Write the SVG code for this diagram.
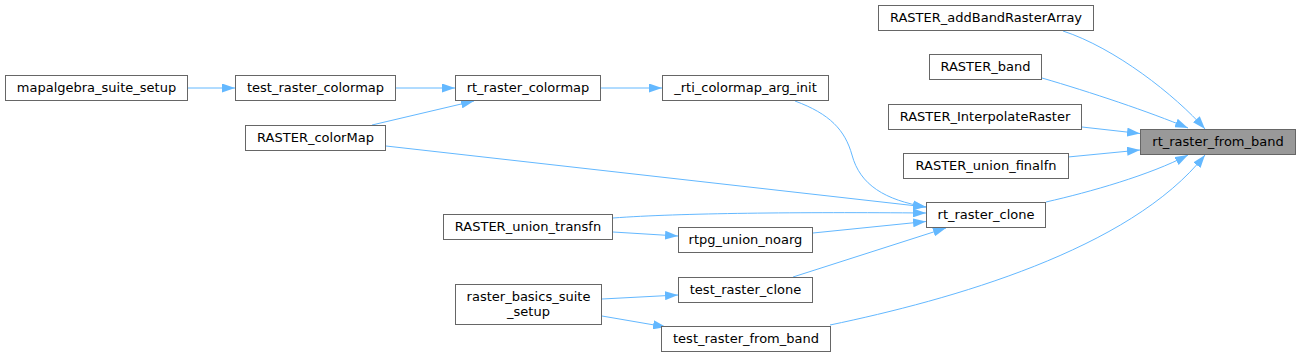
<svg xmlns="http://www.w3.org/2000/svg" width="1301" height="357" viewBox="0 0 1301 357">
<style>
.n rect{fill:#ffffff;stroke:#666666;stroke-width:1}
.n.hl rect{fill:#999999}
.n text{font-family:"DejaVu Sans","Liberation Sans",sans-serif;font-size:13px;fill:#000000;text-anchor:middle}
.e path{fill:none;stroke:#63b8ff;stroke-width:1;marker-end:url(#ah)}
</style>
<defs>
<marker id="ah" markerUnits="userSpaceOnUse" markerWidth="13" markerHeight="9" viewBox="0 0 13 9" refX="13" refY="4.5" orient="auto">
<path d="M0,0 L13,4.5 L0,9 z" fill="#63b8ff"/>
</marker>
</defs>
<rect width="1301" height="357" fill="#ffffff"/>
<g class="e" id="edges">
<path d="M1063,31 C1115,48 1175,95 1205,129"/>
<path d="M1042,78 C1090,92 1150,112 1188,128"/>
<path d="M1082,127 L1140,133.5"/>
<path d="M1068,157 L1140,150"/>
<path d="M1046,202 C1090,192 1150,175 1188,155"/>
<path d="M830,325 C950,300 1130,250 1205,155"/>
<path d="M188,88 L235,88"/>
<path d="M396,88 L455,88"/>
<path d="M372,125 L474,101"/>
<path d="M601,88 L662,88"/>
<path d="M795,101 C830,114 845,130 852,155 C860,185 885,200 926,207"/>
<path d="M386,146 L926,207"/>
<path d="M613,218 C680,213 800,212 926,213"/>
<path d="M813,233 L926,221.5"/>
<path d="M793,277 L946,228"/>
<path d="M613,232 L678,236"/>
<path d="M602,299 L678,295"/>
<path d="M602,316 L666,327"/>
</g>
<g class="n hl" id="rt_raster_from_band"><rect x="1140.5" y="129.5" width="155" height="25"/><text x="1218" y="146">rt_raster_from_band</text></g>
<g class="n" id="RASTER_addBandRasterArray"><rect x="878.5" y="5.5" width="215" height="25"/><text x="986" y="22">RASTER_addBandRasterArray</text></g>
<g class="n" id="RASTER_band"><rect x="929.5" y="54.5" width="112" height="25"/><text x="985.5" y="71">RASTER_band</text></g>
<g class="n" id="RASTER_InterpolateRaster"><rect x="888.5" y="104.5" width="193" height="25"/><text x="985" y="121">RASTER_InterpolateRaster</text></g>
<g class="n" id="RASTER_union_finalfn"><rect x="903.5" y="153.5" width="165" height="25"/><text x="986" y="170">RASTER_union_finalfn</text></g>
<g class="n" id="rt_raster_clone"><rect x="926.5" y="202.5" width="119" height="25"/><text x="986" y="219">rt_raster_clone</text></g>
<g class="n" id="_rti_colormap_arg_init"><rect x="662.5" y="75.5" width="166" height="25"/><text x="745.5" y="92">_rti_colormap_arg_init</text></g>
<g class="n" id="rt_raster_colormap"><rect x="455.5" y="75.5" width="145" height="25"/><text x="528" y="92">rt_raster_colormap</text></g>
<g class="n" id="test_raster_colormap"><rect x="235.5" y="75.5" width="160" height="25"/><text x="315.5" y="92">test_raster_colormap</text></g>
<g class="n" id="mapalgebra_suite_setup"><rect x="5.5" y="75.5" width="182" height="25"/><text x="96.5" y="92">mapalgebra_suite_setup</text></g>
<g class="n" id="RASTER_colorMap"><rect x="245.5" y="125.5" width="140" height="25"/><text x="315.5" y="142">RASTER_colorMap</text></g>
<g class="n" id="RASTER_union_transfn"><rect x="443.5" y="214.5" width="169" height="25"/><text x="528" y="231">RASTER_union_transfn</text></g>
<g class="n" id="rtpg_union_noarg"><rect x="678.5" y="227.5" width="134" height="25"/><text x="745.5" y="244">rtpg_union_noarg</text></g>
<g class="n" id="test_raster_clone"><rect x="678.5" y="277.5" width="134" height="25"/><text x="745.5" y="294">test_raster_clone</text></g>
<g class="n" id="raster_basics_suite_setup"><rect x="455.5" y="284.5" width="146" height="40"/><text x="528.5" y="300.5">raster_basics_suite</text><text x="528.5" y="315.5">_setup</text></g>
<g class="n" id="test_raster_from_band"><rect x="661.5" y="326.5" width="169" height="25"/><text x="746" y="343">test_raster_from_band</text></g>
</svg>
